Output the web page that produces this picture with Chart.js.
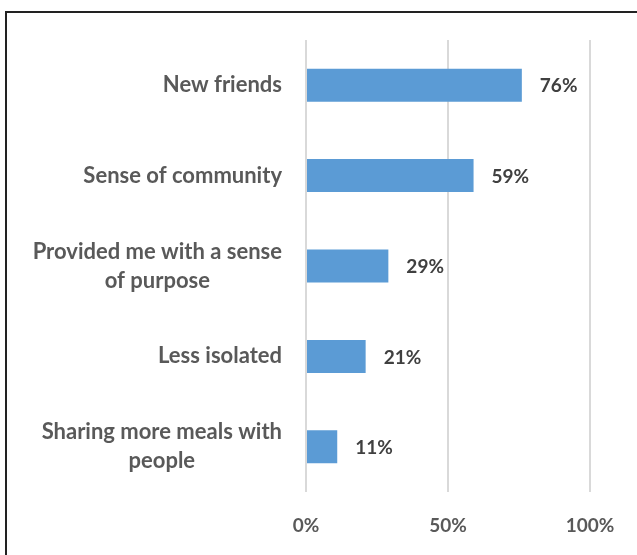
<!DOCTYPE html>
<html>
<head>
<meta charset="utf-8">
<script src="https://cdn.jsdelivr.net/npm/chart.js@4.4.0/dist/chart.umd.min.js"></script>
<style>
  html, body { margin: 0; padding: 0; background: #fff; }
  #wrap { position: relative; width: 637px; height: 555px; overflow: hidden; }
  #marco { position: absolute; left: 5px; top: 11px; width: 700px; height: 700px;
           border-left: 2px solid #222; border-top: 2px solid #222; }
  canvas { position: absolute; left: 0; top: 0; }
</style>
</head>
<body>
<div id="wrap">
  <div id="marco"></div>
  <canvas id="chart" width="637" height="555"></canvas>
</div>
<script>
  // Datos de la gráfica
  const categorias = [
    'New friends',
    'Sense of community',
    ['Provided me with a sense', 'of purpose'],
    'Less isolated',
    ['Sharing more meals with', 'people']
  ];
  const porcentajes = [76, 59, 29, 21, 11];
  const marcasEje = [0, 50, 100];

  // Etiquetas de categoría: bloque alineado a la derecha, líneas centradas
  const etiquetasCategoria = {
    id: 'etiquetasCategoria',
    afterDraw(chart) {
      const ctx = chart.ctx;
      const escala = chart.scales.y;
      const derecha = chart.chartArea.left - 24;
      const alto = 29;
      ctx.save();
      ctx.font = 'bold 22px Lato, sans-serif';
      ctx.fillStyle = '#595959';
      ctx.textAlign = 'center';
      ctx.textBaseline = 'middle';
      categorias.forEach((cat, i) => {
        const lineas = Array.isArray(cat) ? cat : [cat];
        const ancho = Math.max(...lineas.map(l => ctx.measureText(l).width));
        const cx = derecha - ancho / 2;
        const cy = escala.getPixelForValue(i);
        lineas.forEach((l, j) => {
          ctx.fillText(l, cx, cy + (j - (lineas.length - 1) / 2) * alto);
        });
      });
      ctx.restore();
    }
  };

  // Etiquetas de valor al final de cada barra
  const etiquetasValor = {
    id: 'etiquetasValor',
    afterDatasetsDraw(chart) {
      const ctx = chart.ctx;
      const meta = chart.getDatasetMeta(0);
      ctx.save();
      ctx.font = 'bold 19px Lato, sans-serif';
      ctx.fillStyle = '#404040';
      ctx.textAlign = 'left';
      ctx.textBaseline = 'middle';
      meta.data.forEach((barra, i) => {
        ctx.fillText(porcentajes[i] + '%', barra.x + 18, barra.y + 1);
      });
      ctx.restore();
    }
  };

  window.onload = function() {
    const ctx = document.getElementById('chart').getContext('2d');
    new Chart(ctx, {
      type: 'bar',
      data: {
        labels: categorias,
        datasets: [{
          data: porcentajes,
          backgroundColor: '#5b9bd5',
          borderWidth: 0,
          categoryPercentage: 1,
          barPercentage: 0.365
        }]
      },
      options: {
        indexAxis: 'y',
        responsive: false,
        animation: false,
        layout: { padding: { top: 40, right: 47, bottom: 0, left: 0 } },
        plugins: { legend: { display: false }, tooltip: { enabled: false } },
        scales: {
          x: {
            min: 0,
            max: 100,
            afterBuildTicks: s => { s.ticks = marcasEje.map(v => ({ value: v })); },
            afterFit: s => { s.height = 63; },
            border: { display: false },
            grid: { color: '#d9d9d9', lineWidth: 2, drawTicks: false },
            ticks: {
              padding: 22,
              color: '#595959',
              font: { family: 'Lato', size: 19, weight: 'bold' },
              callback: v => v + '%'
            }
          },
          y: {
            afterFit: s => { s.width = 306; },
            border: { display: false },
            grid: { display: false, drawTicks: false },
            ticks: { display: false }
          }
        }
      },
      plugins: [etiquetasValor, etiquetasCategoria]
    });
  };
</script>
</body>
</html>
